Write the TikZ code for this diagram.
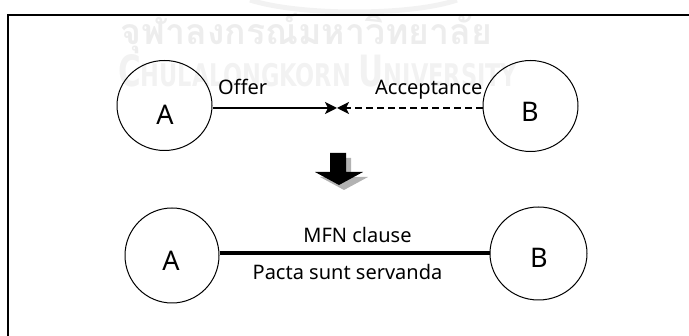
\documentclass[tikz,border=0pt]{standalone}
\usepackage{fontspec}
\setmainfont{Noto Sans}
\newfontfamily\thaifont[Script=Thai]{Loma}
\newfontfamily\wmfont{DejaVu Sans}
\usetikzlibrary{arrows.meta,shapes.geometric}
\begin{document}
\begin{tikzpicture}[x=1pt,y=-1pt,
  party/.style={draw=black, line width=1pt, ellipse, inner sep=0pt},
  letter/.style={inner sep=0pt, anchor=base, font=\fontsize{27}{30}\selectfont},
  lbl/.style={inner sep=0pt, font=\fontsize{20}{24}\selectfont},
  offerline/.style={line width=1.8pt, -{Stealth[length=12pt,width=12pt,inset=3pt]}},
  acceptline/.style={line width=1.5pt, dash pattern=on 7pt off 4pt, -{Stealth[length=12pt,width=12pt,inset=3pt]}},
  bondline/.style={line width=4pt},
  frameline/.style={line width=1.6pt, black},
  wm/.style={inner sep=0pt, anchor=base west}
]
\useasboundingbox (0,0) rectangle (689,336);
% faint watermark
\draw[black!5, line width=5pt] (250,0) .. controls (300,16) and (410,16) .. (457,0);
\node[wm, text=black!7] (wthai) at (120,45) {\resizebox{372pt}{!}{\thaifont\bfseries\fontsize{38}{40}\selectfont จุฬาลงกรณ์มหาวิทยาลัย}};
\node[wm, text=black!5] (wuni) at (118,87) {\resizebox{399pt}{32pt}{\wmfont\bfseries{\fontsize{40}{40}\selectfont C}{\fontsize{29}{29}\selectfont HULALONGKORN}\hspace{10pt}{\fontsize{40}{40}\selectfont U}{\fontsize{29}{29}\selectfont NIVERSITY}}};
% frame
\draw[frameline] (8,336) -- (8,15) -- (689,15);
% top row
\node[party, minimum width=95pt, minimum height=90pt] (A1) at (164.5,105.5) {};
\node[party, minimum width=95pt, minimum height=91pt] (B1) at (530.5,106) {};
\node[letter] (A1t) at (165,125) {A};
\node[letter] (B1t) at (530,122) {B};
\coordinate (meet) at (337,108);
\draw[offerline] (A1.east |- meet) -- (meet);
\draw[acceptline] (B1.west |- meet) -- (meet);
\node[lbl, anchor=base west] (offer) at (218,95) {Offer};
\node[lbl, anchor=base west] (accept) at (375,95) {Acceptance};
% big down arrow
\fill[black!30] (335,158) -- (351,158) -- (351,177) -- (368,177) -- (344,190) -- (320,177) -- (335,177) -- cycle;
\fill[black] (330,153) -- (346,153) -- (346,172) -- (363,172) -- (339,185) -- (315,172) -- (330,172) -- cycle;
% bottom row
\node[party, minimum width=94pt, minimum height=95pt] (A2) at (172,255.5) {};
\node[party, minimum width=97pt, minimum height=93pt] (B2) at (538.5,253.5) {};
\node[letter] (A2t) at (171,271) {A};
\node[letter] (B2t) at (539,268) {B};
\coordinate (bond) at (355,253);
\draw[bondline] (A2.east |- bond) -- (B2.west |- bond);
\node[lbl, anchor=base] (mfn) at (357.5,243) {MFN clause};
\node[lbl, anchor=base] (pacta) at (347.5,280) {Pacta sunt servanda};
\end{tikzpicture}
\end{document}
